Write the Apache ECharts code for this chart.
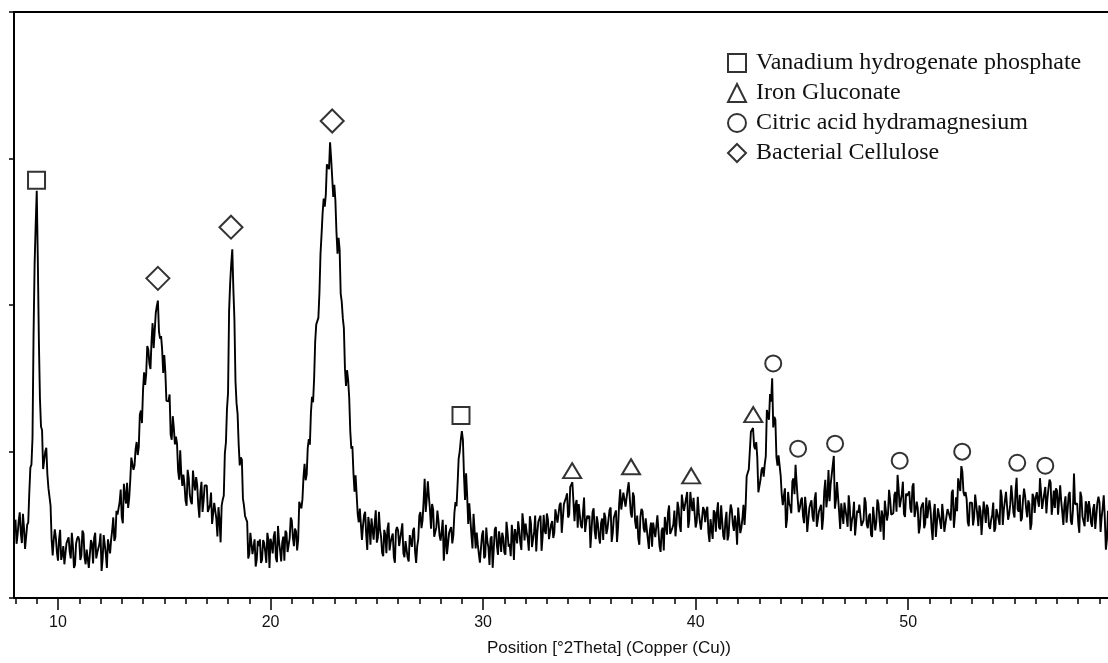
<!DOCTYPE html>
<html>
<head>
<meta charset="utf-8">
<script src="https://cdn.jsdelivr.net/npm/echarts@6/dist/echarts.min.js"></script>
<style>
html,body{margin:0;padding:0;background:#fff;}
#chart{width:1108px;height:663px;}
</style>
</head>
<body>
<div id="chart"></div>
<script>
// ---- Data ----
const thetaStart = 8.0;   // first scan position, °2Theta
const thetaStep = 0.1;    // step between the readings in `counts`
// readings at 8.0, 8.1, 8.2 ... 59.4 °2Theta
const counts = [
  535,435,585,375,480,345,515,890,1090,2280,
  2780,1760,1170,880,1000,845,760,400,400,410,
  255,465,295,230,375,415,270,360,225,405,
  395,290,440,230,335,200,370,410,270,320,
  440,265,365,205,400,400,550,415,570,655,
  550,780,645,615,805,950,905,1065,1030,1280,
  1417,1454,1720,1600,1752,1706,1945,2030,1771,1695,
  1658,1346,1343,1115,1241,1049,1053,808,844,842,
  665,875,705,640,785,825,633,723,588,768,
  768,599,720,510,595,420,530,630,700,1060,
  1400,2150,2380,1900,1330,1050,960,680,560,520,
  300,455,310,215,390,400,260,375,240,395,
  405,305,455,245,384,249,419,459,314,409,
  529,354,454,397,660,673,916,842,1084,1266,
  1336,1751,1855,2084,2482,2727,2753,2946,3110,2870,
  2820,2501,2459,2078,1910,1569,1555,1369,1019,854,
  837,573,611,397,564,433,553,363,468,513,
  378,588,418,285,430,470,325,415,280,460,
  460,360,510,279,384,249,419,459,314,354,
  563,477,659,588,797,604,642,418,482,527,
  392,534,364,299,444,484,427,654,780,1000,
  1140,839,852,505,542,338,460,446,301,341,
  461,286,386,226,421,331,485,295,400,445,
  310,520,350,285,430,470,373,463,328,508,
  508,408,558,348,453,318,522,562,417,457,
  577,402,502,410,605,515,635,445,639,684,
  549,759,790,524,669,641,496,586,451,562,
  562,462,612,402,507,372,542,582,437,477,
  618,443,543,383,640,604,720,623,742,800,
  549,691,473,408,553,593,448,470,335,515,
  515,415,565,355,460,325,542,582,437,477,
  597,511,611,451,646,604,724,534,639,684,
  481,691,521,456,601,593,448,538,403,583,
  583,483,633,423,528,393,563,603,458,498,
  618,443,543,499,831,878,1135,1160,1015,958,
  720,875,829,969,1251,1393,1500,1236,964,973,
  836,633,749,539,644,578,816,910,677,614,
  686,511,611,451,646,556,676,486,591,636,
  549,807,692,661,840,970,667,688,471,651,
  651,551,701,457,562,427,597,637,492,532,
  652,477,577,417,612,522,642,452,557,664,
  529,739,569,579,724,840,619,709,574,713,
  713,613,763,553,658,441,611,651,506,546,
  666,477,577,417,612,522,642,452,557,602,
  529,739,569,593,806,900,722,723,519,651,
  651,551,701,491,596,427,597,637,492,532,
  652,477,577,499,694,604,724,534,639,684,
  549,820,589,524,669,696,551,641,506,686,
  686,668,818,608,713,578,748,788,643,614,
  734,559,659,499,694,604,724,500,850,650,
  515,725,555,490,635,661,516,606,471,651,
  651,551,701,330,596
];
// readings half a step later: 8.05, 8.15 ... 59.35 °2Theta
const countsMid = [
  370,525,445,575,335,500,720,910,1800,2550,
  2310,1365,1145,885,1025,750,630,290,468,310,
  400,260,355,240,395,315,445,205,370,420,
  260,460,275,330,205,395,235,445,310,370,
  185,430,300,400,305,461,389,595,560,740,
  510,702,787,683,958,875,1015,976,1251,1194,
  1540,1532,1695,1563,1876,1825,1994,1820,1788,1536,
  1544,1344,1389,1080,1160,1101,870,1008,765,776,
  630,820,660,870,735,770,548,793,663,763,
  588,634,505,650,540,620,380,671,988,1290,
  1960,2280,2110,1480,1255,905,945,630,560,270,
  445,300,400,260,355,240,395,315,445,205,
  370,420,275,492,324,379,254,444,311,549,
  414,474,325,656,611,825,804,1025,1047,1373,
  1498,1868,1912,2350,2629,2672,2960,2927,2999,2737,
  2715,2350,2378,2021,1842,1447,1487,1141,1036,725,
  707,517,614,493,588,328,493,543,398,598,
  413,468,309,465,305,515,380,440,240,485,
  355,455,305,389,274,429,349,479,239,404,
  587,528,813,680,690,473,605,407,597,428,
  454,254,499,369,469,373,580,626,952,1080,
  1080,670,698,646,432,574,338,366,241,431,
  271,481,346,406,206,468,355,455,315,410,
  295,450,370,500,260,425,523,378,578,393,
  448,323,513,353,563,445,522,322,567,437,
  537,397,526,445,600,520,650,454,664,714,
  569,760,655,639,480,636,476,686,516,542,
  342,587,457,557,417,512,397,552,472,602,
  383,548,598,484,742,608,707,610,790,578,
  720,527,563,363,608,478,544,404,465,350,
  505,425,555,315,480,553,432,632,447,502,
  421,656,496,706,595,679,479,724,594,694,
  520,581,466,621,517,623,383,548,598,453,
  653,468,523,398,588,428,638,503,563,363,
  608,478,636,623,855,877,1134,1037,1064,722,
  807,892,912,1283,1217,1340,1164,1218,904,960,
  705,696,479,724,628,797,708,786,585,665,
  561,691,451,616,666,521,721,536,591,466,
  728,619,874,773,843,610,792,587,646,506,
  601,486,624,527,657,417,582,632,487,687,
  502,557,432,622,462,672,537,597,397,673,
  574,674,571,704,589,744,664,794,554,698,
  728,583,783,598,612,487,636,476,686,551,
  604,397,642,512,612,472,567,452,607,558,
  719,479,688,817,730,860,697,673,490,656,
  496,706,571,631,431,659,512,612,472,567,
  452,607,568,739,499,664,714,569,769,584,
  730,605,704,544,747,606,666,466,711,581,
  722,623,718,603,758,678,808,568,733,748,
  569,769,584,639,514,704,527,600,640,645,
  445,690,560,660,520,608,486,641,561,691,
  451,616,545,400
];

// Phase markers: positions (°2Theta) and heights (counts)
const vanadiumTheta = [8.99, 28.96];
const vanadiumY = [2852, 1245];
const gluconateTheta = [34.19, 36.96, 39.79, 42.71];
const gluconateY = [869, 896, 834, 1252];
const citricTheta = [43.65, 44.82, 46.56, 49.6, 52.54, 55.13, 56.45];
const citricY = [1601, 1019, 1053, 937, 999, 923, 903];
const celluloseTheta = [14.7, 18.14, 22.9];
const celluloseY = [2182, 2531, 3256];

const seriesNames = ['Vanadium hydrogenate phosphate', 'Iron Gluconate', 'Citric acid hydramagnesium', 'Bacterial Cellulose'];
const majorTicks = [10, 20, 30, 40, 50];
const minorTicks = [8,9,10,11,12,13,14,15,16,17,18,19,20,21,22,23,24,25,26,27,28,29,30,31,32,33,34,35,36,37,38,39,40,41,42,43,44,45,46,47,48,49,50,51,52,53,54,55,56,57,58,59];
const axisTitle = 'Position [°2Theta] (Copper (Cu))';

// ---- Build ----
const scan = [];
counts.forEach((c, i) => {
  const t = thetaStart + i * thetaStep;
  scan.push([+t.toFixed(2), c]);
  if (i < countsMid.length) scan.push([+(t + thetaStep / 2).toFixed(3), countsMid[i]]);
});
const pairs = (xs, ys) => xs.map((x, i) => [x, ys[i]]);

const hollow = { color: '#ffffff', borderColor: '#000000', borderWidth: 2 };
const X_MIN = 7.93, X_MAX = 59.4;

const chart = echarts.init(document.getElementById('chart'), null, { renderer: 'canvas' });
chart.setOption({
  animation: false,
  backgroundColor: '#ffffff',
  grid: { left: 14, right: 0, top: 12, bottom: 65, containLabel: false },
  legend: {
    data: seriesNames,
    orient: 'vertical',
    left: 722,
    top: 46,
    itemWidth: 18,
    itemHeight: 18,
    itemGap: 6,
    selectedMode: false,
    textStyle: { fontFamily: 'Liberation Serif', fontSize: 24, color: '#111', lineHeight: 24, padding: [0, 0, 0, 5] }
  },
  xAxis: [
    {
      type: 'value', min: X_MIN, max: X_MAX, position: 'bottom',
      axisLine: { show: true, lineStyle: { color: '#000', width: 2 } },
      axisTick: { show: true, customValues: majorTicks, length: 12, lineStyle: { color: '#000', width: 1.5 } },
      axisLabel: { show: true, customValues: majorTicks, fontFamily: 'Liberation Sans', fontSize: 16, color: '#111', margin: 17 },
      splitLine: { show: false }
    },
    {
      type: 'value', min: X_MIN, max: X_MAX, position: 'bottom',
      axisLine: { show: false },
      axisTick: { show: true, customValues: minorTicks, length: 6, lineStyle: { color: '#000', width: 1.5 } },
      axisLabel: { show: false },
      splitLine: { show: false }
    },
    {
      type: 'value', min: X_MIN, max: X_MAX, position: 'top',
      axisLine: { show: true, lineStyle: { color: '#000', width: 2 } },
      axisTick: { show: false },
      axisLabel: { show: false },
      splitLine: { show: false }
    }
  ],
  yAxis: {
    type: 'value', min: 0, max: 4000, interval: 1000,
    axisLine: { show: true, lineStyle: { color: '#000', width: 2 } },
    axisTick: { show: true, inside: false, length: 5, lineStyle: { color: '#000', width: 1.5 } },
    axisLabel: { show: false },
    splitLine: { show: false }
  },
  graphic: [{
    type: 'text', x: 609, y: 648,
    style: { text: axisTitle, fill: '#111', font: '17px "Liberation Sans"', align: 'center', verticalAlign: 'middle' }
  }],
  series: [
    {
      type: 'line', name: 'scan', data: scan, showSymbol: false, silent: true,
      lineStyle: { color: '#000000', width: 1.9 }, z: 2
    },
    { type: 'scatter', name: seriesNames[0], data: pairs(vanadiumTheta, vanadiumY), symbol: 'rect', symbolSize: [17, 17], itemStyle: hollow, z: 5 },
    { type: 'scatter', name: seriesNames[1], data: pairs(gluconateTheta, gluconateY), symbol: 'triangle', symbolSize: [18, 15], itemStyle: hollow, z: 5 },
    { type: 'scatter', name: seriesNames[2], data: pairs(citricTheta, citricY), symbol: 'circle', symbolSize: 16, itemStyle: hollow, z: 5 },
    { type: 'scatter', name: seriesNames[3], data: pairs(celluloseTheta, celluloseY), symbol: 'diamond', symbolSize: [23, 23], itemStyle: hollow, z: 5 }
  ]
});
</script>
</body>
</html>
